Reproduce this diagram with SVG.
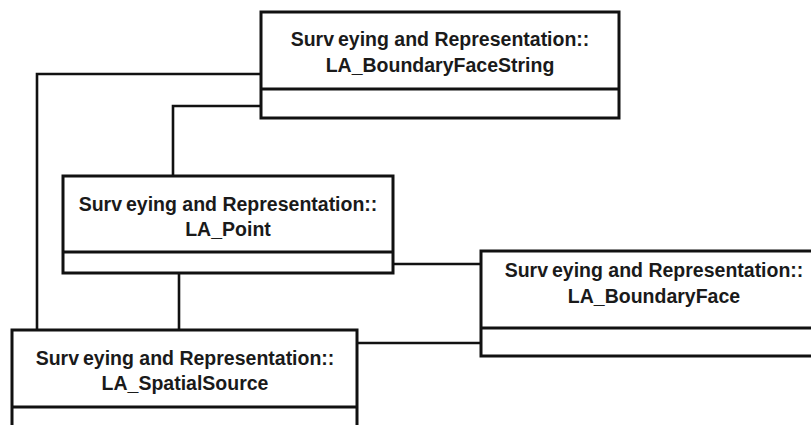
<svg xmlns="http://www.w3.org/2000/svg" width="811" height="425" viewBox="0 0 811 425">
<style>
.box{fill:#fff;stroke:#111;stroke-width:3}
.div{stroke:#111;stroke-width:3}
.t{font-family:"Liberation Sans",Arial,sans-serif;font-weight:bold;font-size:19.5px;fill:#1a1a1a;text-anchor:middle}
.c{fill:none;stroke:#111;stroke-width:2.6}
</style>
<rect width="811" height="425" fill="#fff"/>
<g id="connectors">
<polyline class="c" points="37,330 37,74 261,74"/>
<polyline class="c" points="261,106 173,106 173,176"/>
<line class="c" x1="393" y1="264" x2="481" y2="264"/>
<line class="c" x1="179" y1="273" x2="179" y2="330"/>
<line class="c" x1="357" y1="343" x2="481" y2="343"/>
</g>
<g id="LA_BoundaryFaceString">
<rect class="box" x="261" y="12" width="358" height="106"/>
<line class="div" x1="261" y1="89" x2="619" y2="89"/>
<text class="t" x="440" y="46">Surv<tspan dx="4">eying and Representation::</tspan></text>
<text class="t" x="440" y="72">LA_BoundaryFaceString</text>
</g>
<g id="LA_Point">
<rect class="box" x="63" y="176" width="330" height="97"/>
<line class="div" x1="63" y1="252" x2="393" y2="252"/>
<text class="t" x="228" y="211">Surv<tspan dx="4">eying and Representation::</tspan></text>
<text class="t" x="228" y="236">LA_Point</text>
</g>
<g id="LA_BoundaryFace">
<rect class="box" x="481" y="251" width="346" height="105"/>
<line class="div" x1="481" y1="328" x2="827" y2="328"/>
<text class="t" x="654" y="277">Surv<tspan dx="4">eying and Representation::</tspan></text>
<text class="t" x="654" y="303">LA_BoundaryFace</text>
</g>
<g id="LA_SpatialSource">
<rect class="box" x="12" y="330" width="345" height="110"/>
<line class="div" x1="12" y1="407" x2="357" y2="407"/>
<text class="t" x="185" y="365">Surv<tspan dx="4">eying and Representation::</tspan></text>
<text class="t" x="185" y="390">LA_SpatialSource</text>
</g>
</svg>
